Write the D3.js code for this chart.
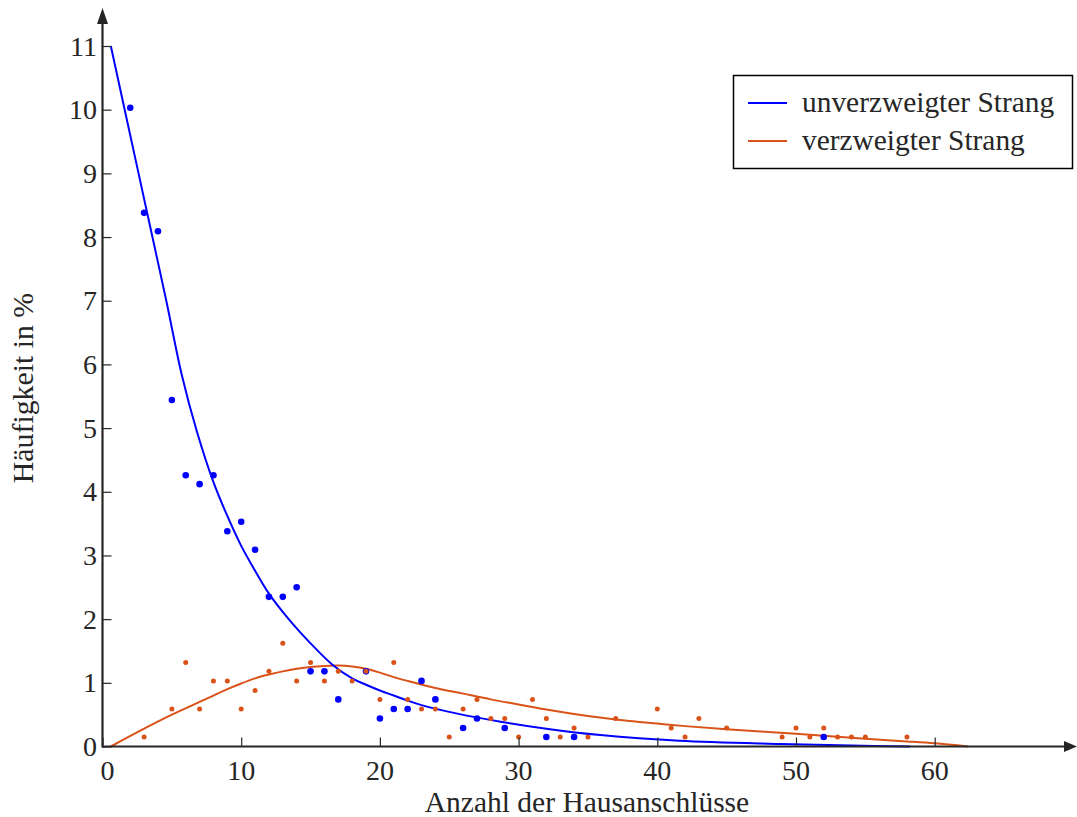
<!DOCTYPE html>
<html>
<head>
<meta charset="utf-8">
<script src="https://cdn.jsdelivr.net/npm/d3@7"></script>
<style>
  html, body { margin: 0; padding: 0; background: #fff; }
  svg { display: block; }
  text { font-family: "Liberation Serif", "Times New Roman", serif; fill: #262626; }
</style>
</head>
<body>
<svg id="chart" width="1077" height="817"></svg>
<script>
// ---- data ----
const seriesNames = ["unverzweigter Strang", "verzweigter Strang"];
const seriesColors = ["#0000ff", "#d95319"];

// measured points (x = Anzahl der Hausanschlüsse, y = Häufigkeit in %)
const blueX = [2, 3, 4, 5, 6, 7, 8, 9, 10, 11, 12, 13, 14, 15, 16, 17, 19, 20, 21, 22, 23, 24, 26, 27, 29, 32, 34, 52];
const blueY = [10.03, 8.38, 8.09, 5.44, 4.26, 4.12, 4.26, 3.38, 3.53, 3.09, 2.35, 2.35, 2.50, 1.18, 1.18, 0.74, 1.18, 0.44, 0.59, 0.59, 1.03, 0.74, 0.29, 0.44, 0.29, 0.15, 0.15, 0.15];

const orangeX = [3, 5, 6, 7, 8, 9, 10, 11, 12, 13, 14, 15, 16, 17, 18, 19, 20, 21, 22, 23, 24, 25, 26, 27, 28, 29, 30, 31, 32, 33, 34, 35, 37, 40, 41, 42, 43, 45, 49, 50, 51, 52, 53, 54, 55, 58];
const orangeY = [0.15, 0.59, 1.32, 0.59, 1.03, 1.03, 0.59, 0.88, 1.18, 1.62, 1.03, 1.32, 1.03, 1.18, 1.03, 1.18, 0.74, 1.32, 0.74, 0.59, 0.59, 0.15, 0.59, 0.74, 0.44, 0.44, 0.15, 0.74, 0.44, 0.15, 0.29, 0.15, 0.44, 0.59, 0.29, 0.15, 0.44, 0.29, 0.15, 0.29, 0.15, 0.29, 0.15, 0.15, 0.15, 0.15];

// fitted curves
const blueFitX = [0.6, 1.6, 2.6, 3.6, 4.6, 5.7, 6.8, 8.0, 9.0, 10.0, 11.0, 12.0, 13.5, 15.0, 16.6, 18.0, 19.0, 20.0, 21.0, 22.0, 23.0, 25.5, 28.7, 32.0, 35.9, 41.6, 48.9, 54.0, 58.2];
const blueFitY = [11.0, 10.0, 9.0, 8.0, 7.0, 5.85, 4.95, 4.15, 3.62, 3.15, 2.76, 2.40, 1.98, 1.62, 1.28, 1.07, 0.97, 0.88, 0.80, 0.72, 0.65, 0.52, 0.39, 0.28, 0.18, 0.09, 0.04, 0.015, 0.0];

const orangeFitX = [0.6, 3.0, 5.0, 7.0, 8.0, 9.0, 10.0, 11.0, 12.0, 13.0, 14.0, 15.0, 16.0, 17.0, 18.0, 19.0, 20.0, 21.0, 22.0, 24.0, 26.0, 28.0, 30.0, 32.0, 34.0, 36.0, 38.0, 40.0, 42.0, 45.0, 50.0, 55.0, 58.0, 60.0, 62.4];
const orangeFitY = [0.0, 0.28, 0.50, 0.70, 0.80, 0.90, 0.99, 1.07, 1.13, 1.18, 1.22, 1.25, 1.265, 1.27, 1.255, 1.22, 1.16, 1.09, 1.03, 0.92, 0.83, 0.74, 0.66, 0.58, 0.51, 0.45, 0.40, 0.36, 0.32, 0.27, 0.20, 0.12, 0.08, 0.05, 0.0];

const xTicks = [0, 10, 20, 30, 40, 50, 60];
const yTicks = [0, 1, 2, 3, 4, 5, 6, 7, 8, 9, 10, 11];
const xTitle = "Anzahl der Hausanschlüsse";
const yTitle = "Häufigkeit in %";

// ---- drawing ----
const svg = d3.select("#chart");
const axisColor = "#262626";

const x = d3.scaleLinear().domain([0, 70]).range([102.5, 1073.4]);
const y = d3.scaleLinear().domain([0, 11]).range([746.5, 46]);

// fit curves
const line = d3.line().x(d => x(d[0])).y(d => y(d[1])).curve(d3.curveCatmullRom.alpha(0.5));
const blueFit = blueFitX.map((v, i) => [v, blueFitY[i]]);
const orangeFit = orangeFitX.map((v, i) => [v, orangeFitY[i]]);

svg.append("path").datum(orangeFit).attr("d", line)
  .attr("fill", "none").attr("stroke", seriesColors[1]).attr("stroke-width", 2);
svg.append("path").datum(blueFit).attr("d", line)
  .attr("fill", "none").attr("stroke", seriesColors[0]).attr("stroke-width", 2);

// points
svg.append("g").selectAll("circle").data(blueX.map((v, i) => [v, blueY[i]])).join("circle")
  .attr("cx", d => x(d[0])).attr("cy", d => y(d[1])).attr("r", 3.3).attr("fill", seriesColors[0]);
svg.append("g").selectAll("circle").data(orangeX.map((v, i) => [v, orangeY[i]])).join("circle")
  .attr("cx", d => x(d[0])).attr("cy", d => y(d[1])).attr("r", 2.5).attr("fill", seriesColors[1]);

// axes
const xAxis = d3.axisTop(x).tickValues(xTicks).tickSize(9).tickFormat("");
const gx = svg.append("g").attr("transform", `translate(0,${y(0)})`).call(xAxis);
gx.select(".domain").remove();
gx.selectAll("line").attr("stroke", axisColor).attr("stroke-width", 1.2);

const yAxis = d3.axisRight(y).tickValues(yTicks).tickSize(9).tickFormat("");
const gy = svg.append("g").attr("transform", `translate(${x(0)},0)`).call(yAxis);
gy.select(".domain").remove();
gy.selectAll("line").attr("stroke", axisColor).attr("stroke-width", 1.2);

// axis lines with arrows
svg.append("line").attr("x1", x(0)).attr("x2", 1066).attr("y1", y(0)).attr("y2", y(0))
  .attr("stroke", axisColor).attr("stroke-width", 2.2);
svg.append("path").attr("d", `M1077,${y(0)} L1064,${y(0) - 5.5} L1064,${y(0) + 5.5} Z`).attr("fill", axisColor);
svg.append("line").attr("x1", x(0)).attr("x2", x(0)).attr("y1", y(0) + 1).attr("y2", 22)
  .attr("stroke", axisColor).attr("stroke-width", 2.2);
svg.append("path").attr("d", `M${x(0)},8 L${x(0) - 5.5},24 L${x(0) + 5.5},24 Z`).attr("fill", axisColor);

// tick labels
svg.append("g").selectAll("text").data(xTicks).join("text")
  .attr("x", d => x(d) + (d === 0 ? 5 : 0)).attr("y", 780)
  .attr("text-anchor", "middle").attr("font-size", 28).text(d => d);
svg.append("g").selectAll("text").data(yTicks).join("text")
  .attr("x", 97).attr("y", d => y(d) + 9.5)
  .attr("text-anchor", "end").attr("font-size", 28).text(d => d);

// axis titles
svg.append("text").attr("x", 587).attr("y", 812).attr("text-anchor", "middle")
  .attr("font-size", 29.5).text(xTitle);
svg.append("text").attr("transform", "translate(33,388) rotate(-90)").attr("text-anchor", "middle")
  .attr("font-size", 29.8).text(yTitle);

// legend
const lg = svg.append("g");
lg.append("rect").attr("x", 733.5).attr("y", 75.5).attr("width", 339).attr("height", 93)
  .attr("fill", "#fff").attr("stroke", "#000").attr("stroke-width", 1.5);
seriesNames.forEach((name, i) => {
  const ly = 103 + i * 38;
  lg.append("line").attr("x1", 748).attr("x2", 787).attr("y1", ly).attr("y2", ly)
    .attr("stroke", seriesColors[i]).attr("stroke-width", 2);
  lg.append("text").attr("x", 802).attr("y", ly + 9).attr("font-size", 29.4).text(name);
});
</script>
</body>
</html>
